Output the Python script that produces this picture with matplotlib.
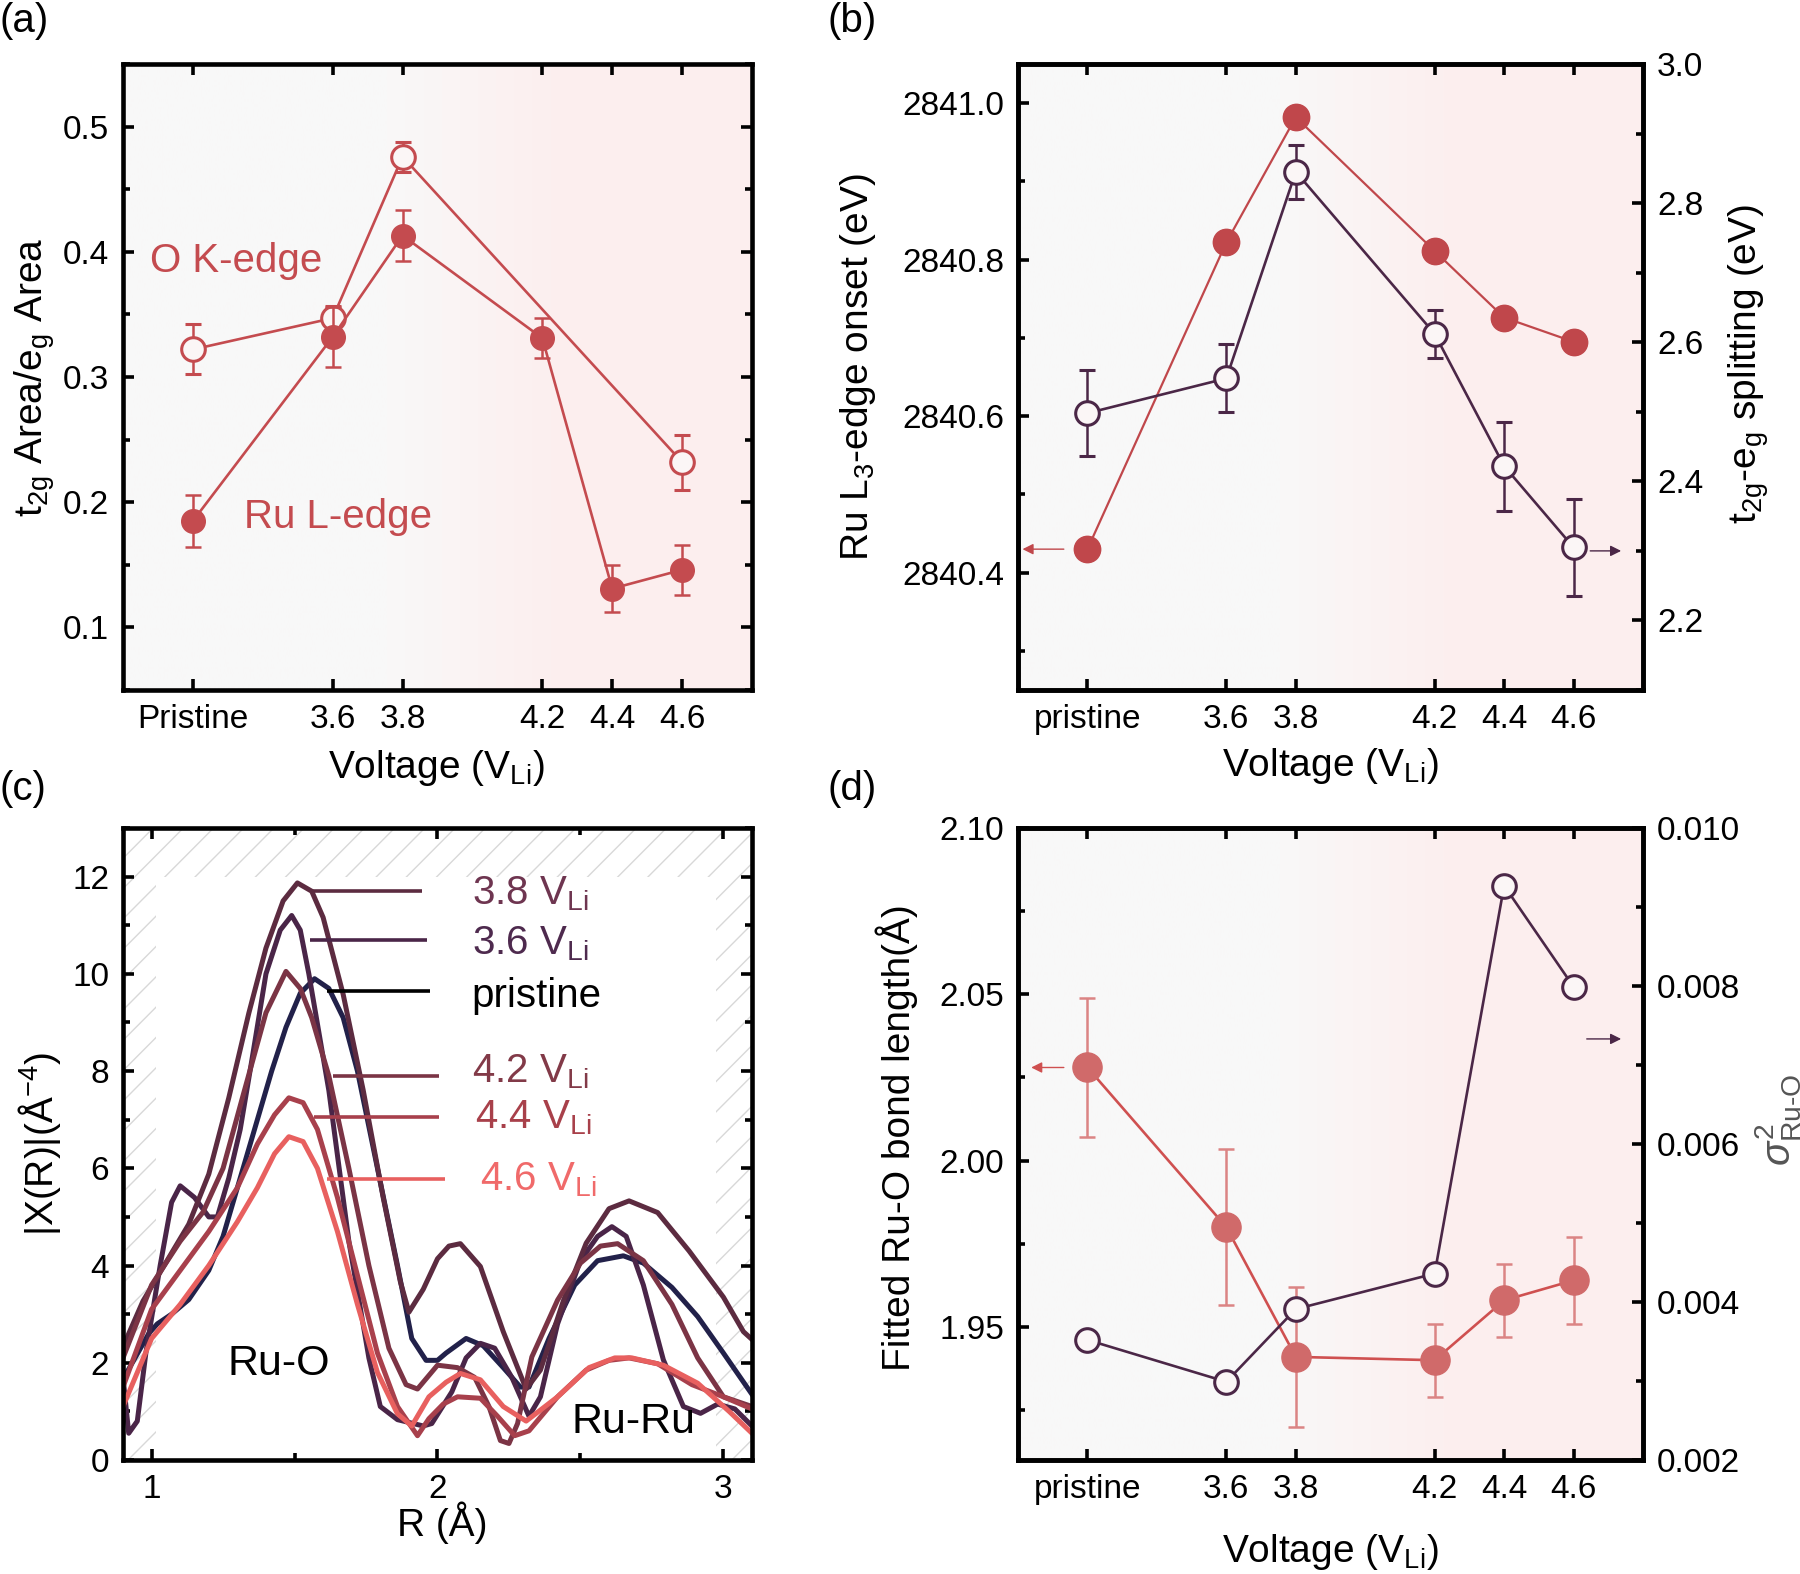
import numpy as np
import matplotlib
matplotlib.use('Agg')
import matplotlib.pyplot as plt
from matplotlib.colors import LinearSegmentedColormap
from matplotlib.patches import Rectangle
from matplotlib.ticker import MultipleLocator, FormatStrFormatter

plt.rcParams['font.family'] = ['Liberation Sans', 'DejaVu Sans']
plt.rcParams['mathtext.fontset'] = 'custom'
plt.rcParams['mathtext.rm'] = 'Liberation Sans'
plt.rcParams['mathtext.it'] = 'Liberation Sans:italic'
plt.rcParams['mathtext.sf'] = 'Liberation Sans'

# ---------------- data ----------------
volt_x = [3.2, 3.6, 3.8, 4.2, 4.4, 4.6]
volt_a_labels = ['Pristine', '3.6', '3.8', '4.2', '4.4', '4.6']
volt_labels = ['pristine', '3.6', '3.8', '4.2', '4.4', '4.6']

# (a) t2g/eg area ratio
ok_x = [3.2, 3.6, 3.8, 4.6]
ok_y = [0.322, 0.347, 0.476, 0.232]
ok_err = [0.020, 0.010, 0.012, 0.022]
rul_y = [0.185, 0.332, 0.413, 0.331, 0.131, 0.146]
rul_err = [0.021, 0.024, 0.020, 0.016, 0.019, 0.020]

# (b) Ru L3 onset and t2g-eg splitting
onset = [2840.43, 2840.822, 2840.982, 2840.811, 2840.726, 2840.695]
split = [2.498, 2.548, 2.845, 2.612, 2.422, 2.305]
split_err = [0.062, 0.049, 0.039, 0.034, 0.064, 0.070]

# (c) |chi(R)| curves
r_pristine = [0.90, 0.99, 1.02, 1.07, 1.13, 1.20, 1.25, 1.30, 1.37, 1.42, 1.47, 1.52, 1.57, 1.62, 1.67,
              1.72, 1.79, 1.86, 1.91, 1.96, 2.00, 2.03, 2.10, 2.16, 2.23, 2.29, 2.32, 2.39, 2.48, 2.56,
              2.65, 2.72, 2.82, 2.91, 3.00, 3.10]
chi_pristine = [1.66, 2.6, 2.8, 3.0, 3.3, 3.9, 4.6, 5.6, 7.0, 8.0, 8.9, 9.6, 9.9, 9.7, 9.1,
                8.0, 6.0, 4.0, 2.5, 2.05, 2.05, 2.2, 2.5, 2.35, 1.9, 1.5, 1.5, 2.5, 3.6, 4.1,
                4.2, 4.05, 3.55, 2.95, 2.2, 1.35]
r_38 = [0.90, 0.97, 1.05, 1.13, 1.20, 1.27, 1.34, 1.40, 1.46, 1.51, 1.56, 1.60, 1.67, 1.74, 1.81,
        1.87, 1.90, 1.95, 2.00, 2.04, 2.08, 2.15, 2.23, 2.31, 2.36, 2.44, 2.52, 2.60, 2.67, 2.77,
        2.88, 3.00, 3.07, 3.10]
chi_38 = [2.33, 3.27, 4.06, 4.85, 5.88, 7.45, 9.19, 10.53, 11.5, 11.87, 11.7, 11.16, 9.58, 7.61, 5.40,
          3.67, 3.04, 3.51, 4.14, 4.4, 4.45, 3.98, 2.64, 1.46, 1.85, 3.27, 4.46, 5.17, 5.33, 5.09,
          4.30, 3.35, 2.64, 2.48]
r_36 = [0.90, 0.92, 0.95, 0.98, 1.03, 1.07, 1.10, 1.15, 1.20, 1.23, 1.27, 1.31, 1.35, 1.40, 1.45,
        1.49, 1.52, 1.55, 1.62, 1.69, 1.76, 1.80, 1.86, 1.95, 1.98, 2.05, 2.10, 2.15, 2.20, 2.26,
        2.32, 2.36, 2.42, 2.50, 2.56, 2.61, 2.66, 2.72, 2.79, 2.86, 2.92, 2.98, 3.04, 3.10]
chi_36 = [1.7, 0.55, 0.8, 2.2, 4.0, 5.3, 5.64, 5.4, 5.0, 5.0, 5.8, 6.8, 8.2, 10.0, 10.9,
          11.2, 10.9, 10.0, 7.6, 4.5, 2.1, 1.1, 0.83, 0.7, 0.75, 1.4, 2.1, 2.4, 2.3, 1.7,
          0.9, 1.3, 2.8, 4.1, 4.6, 4.8, 4.6, 3.6, 2.06, 1.1, 0.96, 1.15, 1.05, 0.7]
r_42 = [0.90, 1.00, 1.10, 1.18, 1.25, 1.32, 1.40, 1.47, 1.52, 1.56, 1.62, 1.69, 1.76, 1.83, 1.89,
        1.93, 2.00, 2.07, 2.13, 2.18, 2.22, 2.25, 2.28, 2.33, 2.42, 2.50, 2.57, 2.63, 2.72, 2.82,
        2.91, 3.00, 3.10]
chi_42 = [2.1, 3.6, 4.5, 5.1, 6.0, 7.5, 9.2, 10.05, 9.7, 9.1, 7.9, 6.0, 4.0, 2.3, 1.55,
          1.46, 1.95, 1.9, 1.7, 1.1, 0.4, 0.34, 0.75, 2.12, 3.29, 4.05, 4.4, 4.45, 4.1, 3.2,
          2.1, 1.3, 1.1]
r_44 = [0.90, 1.00, 1.10, 1.20, 1.30, 1.37, 1.43, 1.48, 1.53, 1.58, 1.65, 1.72, 1.79, 1.86, 1.93,
        1.97, 2.02, 2.07, 2.15, 2.21, 2.27, 2.32, 2.42, 2.52, 2.60, 2.67, 2.77, 2.89, 3.00, 3.10]
chi_44 = [1.5, 3.1, 3.9, 4.7, 5.6, 6.5, 7.1, 7.45, 7.35, 6.8, 5.4, 3.8, 2.2, 1.1, 0.5,
          0.85, 1.15, 1.3, 1.27, 0.9, 0.5, 0.6, 1.3, 1.85, 2.05, 2.1, 1.98, 1.55, 1.3, 1.05]
r_46 = [0.90, 1.00, 1.10, 1.20, 1.30, 1.37, 1.43, 1.48, 1.53, 1.58, 1.65, 1.72, 1.79, 1.86, 1.91,
        1.97, 2.03, 2.08, 2.15, 2.23, 2.31, 2.42, 2.53, 2.62, 2.68, 2.79, 2.91, 3.02, 3.10]
chi_46 = [1.1, 2.5, 3.2, 4.0, 4.9, 5.6, 6.3, 6.65, 6.55, 6.0, 4.7, 3.2, 1.8, 0.95, 0.7,
          1.3, 1.6, 1.78, 1.65, 1.1, 0.8, 1.3, 1.9, 2.1, 2.1, 1.95, 1.58, 1.0, 0.55]

curve_names = ['3.8 V$_{\\rm Li}$', '3.6 V$_{\\rm Li}$', 'pristine',
               '4.2 V$_{\\rm Li}$', '4.4 V$_{\\rm Li}$', '4.6 V$_{\\rm Li}$']
leader_y = [11.71, 10.70, 9.64, 7.90, 7.05, 5.78]
leader_x0 = [1.563, 1.553, 1.613, 1.633, 1.569, 1.613]
leader_x1 = [1.945, 1.965, 1.975, 2.005, 2.005, 2.025]
name_base = [11.42, 10.41, 9.31, 7.77, 6.82, 5.54]
name_x = [2.12, 2.12, 2.12, 2.12, 2.13, 2.15]

# (d) Ru-O bond length and sigma^2
bond = [2.028, 1.980, 1.941, 1.940, 1.958, 1.964]
bond_err = [0.021, 0.0235, 0.021, 0.011, 0.011, 0.013]
sigma2 = [0.00352, 0.00299, 0.00391, 0.00436, 0.00927, 0.00799]

# ---------------- style ----------------
red_a = '#c44b4f'
red_b = '#c0474b'
purple = '#4b2747'
red_d = '#d06a6a'
red_d_line = '#cf5050'
curve_colors = ['#5c2b40', '#4a2548', '#22214a', '#7b3445', '#a8404c', '#e8605f']
name_colors = ['#6e3550', '#4e2a4e', 'black', '#823a48', '#a8404a', '#f06a6a']
open_face = '#fbf6f6'

bg_cmap = LinearSegmentedColormap.from_list(
    'bg', [(0, '#f8f8f8'), (0.42, '#f9f8f8'), (0.68, '#fcefef'), (1, '#fdeeee')])

tick_fs = 24
label_fs = 28
spine_w = 3.3


def style(ax, right=True, top=True):
    for s in ax.spines.values():
        s.set_linewidth(spine_w)
    ax.tick_params(which='both', direction='in', labelsize=tick_fs, top=top, right=right,
                   width=2.6, pad=10)
    ax.tick_params(which='major', length=8)
    ax.tick_params(which='minor', length=5)


def add_bg(ax):
    ax.imshow(np.linspace(0, 1, 256)[None, :], cmap=bg_cmap, extent=[0, 1, 0, 1],
              transform=ax.transAxes, aspect='auto', zorder=0, interpolation='bilinear')


fig = plt.figure(figsize=(18, 15.74), dpi=100)
W, H = 1800.0, 1574.0
axA = fig.add_axes([123 / W, 1 - 690 / H, 629 / W, 626 / H])
axB = fig.add_axes([1018 / W, 1 - 690 / H, 625 / W, 626 / H])
axC = fig.add_axes([123 / W, 1 - 1460 / H, 629 / W, 632 / H])
axD = fig.add_axes([1018 / W, 1 - 1460 / H, 625 / W, 632 / H])

eb_kw = dict(elinewidth=1.8, capsize=5.5, capthick=1.8)

# ---------------- (a) ----------------
add_bg(axA)
axA.errorbar(ok_x, ok_y, yerr=ok_err, color=red_a, lw=1.9, marker='o', ms=17,
             mfc=open_face, mec=red_a, mew=2.2, zorder=3, **eb_kw)
axA.errorbar(volt_x, rul_y, yerr=rul_err, color=red_a, lw=1.9, marker='o', ms=17,
             mfc=red_a, mec=red_a, zorder=4, **eb_kw)
axA.text(3.077, 0.384, 'O K-edge', color=red_a, fontsize=29, va='baseline')
axA.text(3.346, 0.179, 'Ru L-edge', color=red_a, fontsize=29, va='baseline')
axA.set_xlim(3.0, 4.8)
axA.set_ylim(0.05, 0.55)
axA.set_xticks(volt_x)
axA.set_xticklabels(volt_a_labels)
axA.set_yticks([0.1, 0.2, 0.3, 0.4, 0.5])
axA.yaxis.set_minor_locator(MultipleLocator(0.05))
style(axA)
axA.set_xlabel('Voltage (V$_{\\rm Li}$)', fontsize=label_fs)
axA.set_ylabel('t$_{\\rm 2g}$ Area/e$_{\\rm g}$ Area', fontsize=label_fs)
axA.xaxis.set_label_coords(0.498, -0.093)
axA.yaxis.set_label_coords(-0.105, 0.5)

# ---------------- (b) ----------------
add_bg(axB)
axB2 = axB.twinx()
axB.plot(volt_x, onset, color=red_b, lw=1.6, marker='o', ms=19, mfc=red_b, mec=red_b, zorder=3)
axB2.errorbar(volt_x, split, yerr=split_err, color=purple, lw=1.9, marker='o', ms=17,
              mfc=open_face, mec=purple, mew=2.2, zorder=3, **eb_kw)
axB.annotate('', xy=(3.005, onset[0]), xytext=(3.14, onset[0]),
             arrowprops=dict(arrowstyle='-|>', color=red_b, lw=1.0, mutation_scale=16))
axB2.annotate('', xy=(4.745, 2.30), xytext=(4.64, 2.30),
              arrowprops=dict(arrowstyle='-|>', color=purple, lw=1.0, mutation_scale=16))
axB.set_xlim(3.0, 4.8)
axB.set_ylim(2840.25, 2841.05)
axB2.set_ylim(2.1, 3.0)
axB.set_xticks(volt_x)
axB.set_xticklabels(volt_labels)
axB.set_yticks([2840.4, 2840.6, 2840.8, 2841.0])
axB.yaxis.set_major_formatter(FormatStrFormatter('%.1f'))
axB.yaxis.set_minor_locator(MultipleLocator(0.1))
axB2.set_yticks([2.2, 2.4, 2.6, 2.8, 3.0])
axB2.yaxis.set_major_formatter(FormatStrFormatter('%.1f'))
axB2.yaxis.set_minor_locator(MultipleLocator(0.1))
style(axB, right=False)
style(axB2, right=True)
axB2.tick_params(which='both', left=False, top=False)
axB.set_xlabel('Voltage (V$_{\\rm Li}$)', fontsize=label_fs)
axB.set_ylabel('Ru L$_{3}$-edge onset (eV)', fontsize=label_fs)
axB2.set_ylabel('t$_{\\rm 2g}$-e$_{\\rm g}$ splitting (eV)', fontsize=label_fs)
axB.xaxis.set_label_coords(0.5, -0.09)
axB.yaxis.set_label_coords(-0.224, 0.516)
axB2.yaxis.set_label_coords(1.134, 0.52)

# ---------------- (c) ----------------
axC.set_xlim(0.9, 3.1)
axC.set_ylim(0, 13)
for k in np.arange(-1.0, 1.0, 0.048):
    axC.plot([k, k + 1], [0, 1], transform=axC.transAxes, color='#d8d8d8', lw=1.0, zorder=0)
axC.add_patch(Rectangle((1.015, 0), 1.96, 12, facecolor='white', edgecolor='none', zorder=0.5))
r_sets = [r_38, r_36, r_pristine, r_42, r_44, r_46]
chi_sets = [chi_38, chi_36, chi_pristine, chi_42, chi_44, chi_46]
draw_order = [2, 1, 0, 3, 4, 5]
for i in draw_order:
    axC.plot(r_sets[i], chi_sets[i], color=curve_colors[i], lw=3.6, zorder=2,
             solid_joinstyle='round')
for i in range(6):
    axC.hlines(leader_y[i], leader_x0[i], leader_x1[i], color=curve_colors[i] if i != 2 else 'black',
               lw=2.6, zorder=3)
    axC.text(name_x[i], name_base[i], curve_names[i], color=name_colors[i], fontsize=29,
             va='baseline', zorder=4)
axC.text(1.266, 1.75, 'Ru-O', fontsize=31, va='baseline')
axC.text(2.47, 0.55, 'Ru-Ru', fontsize=31, va='baseline')
axC.set_xticks([1, 2, 3])
axC.xaxis.set_minor_locator(MultipleLocator(0.5))
axC.set_yticks([0, 2, 4, 6, 8, 10, 12])
axC.yaxis.set_minor_locator(MultipleLocator(1))
style(axC)
axC.set_xlabel('R (Å)', fontsize=label_fs)
axC.set_ylabel('|Χ(R)|(Å$^{-4}$)', fontsize=label_fs)
axC.xaxis.set_label_coords(0.507, -0.066)
axC.yaxis.set_label_coords(-0.095, 0.5)

# ---------------- (d) ----------------
add_bg(axD)
axD2 = axD.twinx()
axD.errorbar(volt_x, bond, yerr=bond_err, color=red_d_line, ecolor='#db8484', lw=1.9,
             marker='o', ms=21, mfc=red_d, mec=red_d, zorder=3, **eb_kw)
axD2.plot(volt_x, sigma2, color=purple, lw=1.9, marker='o', ms=17, mfc=open_face,
          mec=purple, mew=2.2, zorder=3)
axD.annotate('', xy=(3.03, 2.028), xytext=(3.14, 2.028),
             arrowprops=dict(arrowstyle='-|>', color=red_d_line, lw=1.0, mutation_scale=16))
axD2.annotate('', xy=(4.745, 0.00733), xytext=(4.63, 0.00733),
              arrowprops=dict(arrowstyle='-|>', color=purple, lw=1.0, mutation_scale=16))
axD.set_xlim(3.0, 4.8)
axD.set_ylim(1.91, 2.10)
axD2.set_ylim(0.002, 0.010)
axD.set_xticks(volt_x)
axD.set_xticklabels(volt_labels)
axD.set_yticks([1.95, 2.00, 2.05, 2.10])
axD.yaxis.set_major_formatter(FormatStrFormatter('%.2f'))
axD.yaxis.set_minor_locator(MultipleLocator(0.025))
axD2.set_yticks([0.002, 0.004, 0.006, 0.008, 0.010])
axD2.yaxis.set_major_formatter(FormatStrFormatter('%.3f'))
axD2.yaxis.set_minor_locator(MultipleLocator(0.001))
style(axD, right=False)
style(axD2, right=True)
axD2.tick_params(which='both', left=False, top=False)
axD.set_xlabel('Voltage (V$_{\\rm Li}$)', fontsize=label_fs)
axD.set_ylabel('Fitted Ru-O bond length(Å)', fontsize=label_fs)
axD2.set_ylabel('$\\sigma^{2}_{\\rm Ru\\text{-}O}$', fontsize=29, color='#555555')
axD.xaxis.set_label_coords(0.5, -0.114)
axD.yaxis.set_label_coords(-0.16, 0.51)
axD2.yaxis.set_label_coords(1.176, 0.538)

# panel letters
fig.text(0.0, 1 - 2 / H, '(a)', fontsize=29, va='top', ha='left')
fig.text(827 / W, 1 - 2 / H, '(b)', fontsize=29, va='top', ha='left')
fig.text(0.0, 1 - 770 / H, '(c)', fontsize=29, va='top', ha='left')
fig.text(827 / W, 1 - 770 / H, '(d)', fontsize=29, va='top', ha='left')

fig.savefig('out.png', dpi=100)
